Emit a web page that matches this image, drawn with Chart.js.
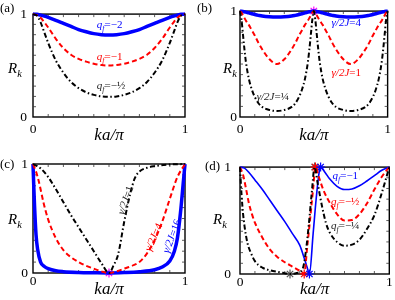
<!DOCTYPE html>
<html>
<head>
<meta charset="utf-8">
<script src="https://cdn.jsdelivr.net/npm/chart.js@4.4.0/dist/chart.umd.min.js"></script>
<style>
  html, body { margin: 0; padding: 0; background: #fff; }
  #wrap { position: relative; width: 395px; height: 300px; }
  .panel { position: absolute; }
</style>
</head>
<body>
<div id="wrap">
  <div class="panel" style="left:0;top:0"><canvas id="pa" width="197" height="150"></canvas></div>
  <div class="panel" style="left:197px;top:0"><canvas id="pb" width="198" height="150"></canvas></div>
  <div class="panel" style="left:0;top:150px"><canvas id="pc" width="197" height="150"></canvas></div>
  <div class="panel" style="left:197px;top:150px"><canvas id="pd" width="198" height="150"></canvas></div>
</div>
<script>
// (a) R_k vs ka/pi for q_f = -2, -1, -1/2
const aK     = [0, 0.025, 0.05, 0.075, 0.1, 0.15, 0.2, 0.25, 0.3, 0.35, 0.4, 0.45, 0.5, 0.55, 0.6, 0.65, 0.7, 0.75, 0.8, 0.85, 0.9, 0.925, 0.95, 0.975, 1];
const aBlue  = [1, 0.998, 0.99, 0.98, 0.968, 0.94, 0.91, 0.88, 0.85, 0.828, 0.81, 0.8, 0.797, 0.8, 0.81, 0.828, 0.85, 0.88, 0.91, 0.94, 0.968, 0.98, 0.99, 0.998, 1];
const aRed   = [1, 0.99, 0.965, 0.92, 0.87, 0.76, 0.67, 0.605, 0.565, 0.538, 0.518, 0.505, 0.5, 0.505, 0.518, 0.538, 0.565, 0.605, 0.67, 0.76, 0.87, 0.92, 0.965, 0.99, 1];
const aBlack = [1, 0.985, 0.92, 0.82, 0.72, 0.55, 0.43, 0.34, 0.28, 0.24, 0.215, 0.2, 0.196, 0.2, 0.215, 0.24, 0.28, 0.34, 0.43, 0.55, 0.72, 0.82, 0.92, 0.985, 1];

// (b) gamma/2J = 4, 1, 1/4
const bK     = [0, 0.01, 0.02, 0.03, 0.04, 0.06, 0.08, 0.1, 0.125, 0.15, 0.2, 0.25, 0.3, 0.35, 0.375, 0.4, 0.42, 0.44, 0.46, 0.47, 0.48, 0.49, 0.5,
                0.51, 0.52, 0.53, 0.54, 0.56, 0.58, 0.6, 0.625, 0.65, 0.7, 0.75, 0.8, 0.85, 0.875, 0.9, 0.92, 0.94, 0.96, 0.97, 0.98, 0.99, 1];
const bBlue  = [1, 0.999, 0.997, 0.994, 0.99, 0.983, 0.975, 0.968, 0.96, 0.953, 0.946, 0.944, 0.946, 0.953, 0.96, 0.968, 0.975, 0.983, 0.99, 0.994, 0.997, 0.999, 1,
                0.999, 0.997, 0.994, 0.99, 0.983, 0.975, 0.968, 0.96, 0.953, 0.946, 0.944, 0.946, 0.953, 0.96, 0.968, 0.975, 0.983, 0.99, 0.994, 0.997, 0.999, 1];
const bRed   = [1, 0.985, 0.96, 0.935, 0.91, 0.87, 0.82, 0.77, 0.7, 0.64, 0.545, 0.5, 0.545, 0.64, 0.7, 0.77, 0.82, 0.87, 0.91, 0.935, 0.96, 0.985, 1,
                0.985, 0.96, 0.935, 0.91, 0.87, 0.82, 0.77, 0.7, 0.64, 0.545, 0.5, 0.545, 0.64, 0.7, 0.77, 0.82, 0.87, 0.91, 0.935, 0.96, 0.985, 1];
const bBlack = [1, 0.92, 0.78, 0.64, 0.52, 0.36, 0.26, 0.19, 0.13, 0.095, 0.066, 0.057, 0.066, 0.095, 0.13, 0.19, 0.26, 0.36, 0.52, 0.64, 0.78, 0.92, 1,
                0.92, 0.78, 0.64, 0.52, 0.36, 0.26, 0.19, 0.13, 0.095, 0.066, 0.057, 0.066, 0.095, 0.13, 0.19, 0.26, 0.36, 0.52, 0.64, 0.78, 0.92, 1];
const bStarK = [0.5];
const bStarR = [1];

// (c) gamma/2J = 16, 4, 1
const cBlueK  = [0, 0.005, 0.01, 0.02, 0.03, 0.05, 0.075, 0.1, 0.15, 0.2, 0.3, 0.4, 0.5, 0.6, 0.7, 0.8, 0.85, 0.9, 0.93, 0.95, 0.97, 0.99, 1];
const cBlue   = [1, 0.8, 0.62, 0.35, 0.22, 0.1, 0.06, 0.04, 0.02, 0.012, 0.005, 0.002, 0, 0.004, 0.012, 0.03, 0.055, 0.11, 0.2, 0.32, 0.55, 0.85, 1];
const cRedK   = [0, 0.02, 0.04, 0.07, 0.1, 0.15, 0.2, 0.25, 0.3, 0.35, 0.4, 0.45, 0.5, 0.55, 0.6, 0.65, 0.7, 0.75, 0.8, 0.85, 0.9, 0.95, 1];
const cRed    = [1, 0.93, 0.83, 0.64, 0.49, 0.32, 0.21, 0.145, 0.1, 0.065, 0.04, 0.015, 0, 0.015, 0.04, 0.065, 0.1, 0.18, 0.3, 0.47, 0.68, 0.88, 1];
const cBlackK = [0, 0.05, 0.1, 0.15, 0.2, 0.25, 0.3, 0.35, 0.4, 0.45, 0.5, 0.53, 0.56, 0.6, 0.64, 0.67, 0.7, 0.75, 0.8, 0.9, 1];
const cBlack  = [1, 0.96, 0.88, 0.77, 0.65, 0.53, 0.42, 0.31, 0.2, 0.09, 0, 0.07, 0.17, 0.47, 0.73, 0.87, 0.93, 0.965, 0.98, 0.995, 1];
const cStarK = [0.5];
const cStarR = [0];

// (d) q_f = -1, -1/2, -1/4
const dBlueK  = [0, 0.03, 0.06, 0.1, 0.15, 0.2, 0.25, 0.3, 0.35, 0.4, 0.43, 0.45, 0.465, 0.49, 0.51, 0.53, 0.54, 0.57, 0.6, 0.65, 0.7, 0.75, 0.8, 0.85, 0.9, 0.95, 1];
const dBlue   = [1, 0.99, 0.95, 0.88, 0.79, 0.69, 0.59, 0.49, 0.38, 0.27, 0.15, 0.06, 0, 0.38, 0.7, 0.95, 1, 0.95, 0.89, 0.82, 0.79, 0.795, 0.825, 0.87, 0.92, 0.97, 1];
const dRedK   = [0, 0.02, 0.04, 0.06, 0.08, 0.1, 0.15, 0.2, 0.25, 0.3, 0.35, 0.4, 0.43, 0.45, 0.47, 0.49, 0.505, 0.53, 0.56, 0.6, 0.65, 0.7, 0.75, 0.8, 0.85, 0.9, 0.95, 1];
const dRed    = [1, 0.93, 0.8, 0.66, 0.56, 0.48, 0.34, 0.23, 0.16, 0.11, 0.07, 0.03, 0, 0.25, 0.52, 0.8, 1, 0.9, 0.78, 0.67, 0.56, 0.5, 0.505, 0.56, 0.66, 0.79, 0.91, 1];
const dBlackK = [0, 0.01, 0.02, 0.03, 0.05, 0.075, 0.1, 0.15, 0.2, 0.25, 0.3, 0.335, 0.38, 0.42, 0.44, 0.46, 0.48, 0.5, 0.52, 0.55, 0.575, 0.6, 0.65, 0.7, 0.75, 0.8, 0.85, 0.9, 0.95, 1];
const dBlack  = [1, 0.75, 0.57, 0.45, 0.29, 0.19, 0.12, 0.06, 0.035, 0.02, 0.008, 0, 0.01, 0.05, 0.2, 0.45, 0.75, 1, 0.85, 0.63, 0.48, 0.39, 0.3, 0.265, 0.275, 0.32, 0.42, 0.55, 0.76, 1];
const dStarLowK  = [0.335, 0.43, 0.465];
const dStarLowR  = [0, 0, 0];
const dStarHighK = [0.5, 0.505, 0.54];
const dStarHighR = [1, 1, 1];

const minorTicks = [0.1, 0.2, 0.3, 0.4, 0.5, 0.6, 0.7, 0.8, 0.9];

const SERIF = '"Liberation Serif", "DejaVu Serif", serif';
const BLUE = '#0000ff', RED = '#ff0000', BLACK = '#000000', MAGENTA = '#ff00ff';

function pts(ks, rs) {
    return ks.map((k, i) => ({ x: k, y: rs[i] }));
}

function curve(ks, rs, color, kind, width) {
    const ds = {
        type: 'line',
        data: pts(ks, rs),
        borderColor: color,
        borderWidth: width,
        pointRadius: 0,
        cubicInterpolationMode: 'monotone',
        clip: false
    };
    if (kind === 'dash') ds.borderDash = [5, 3];
    if (kind === 'dashdot') ds.borderDash = [5, 2.5, 1.5, 2.5];
    return ds;
}

function stars(ks, rs, colors) {
    return {
        type: 'scatter',
        data: pts(ks, rs),
        pointStyle: 'star',
        pointRadius: 4.5,
        borderWidth: 1.2,
        borderColor: colors,
        backgroundColor: colors,
        clip: false
    };
}

// kleine Hilfe: Text mit kursiv / tiefgestellt
function qf(v) { return [{ t: 'q', it: 1 }, { t: 'f', it: 1, sub: 1 }, { t: '=\u2212' + v }]; }
function gam(v) { return [{ t: '\u03b3/2J', it: 1 }, { t: '=' + v }]; }

function richWidth(ctx, parts, size) {
    let w = 0;
    parts.forEach(p => {
        ctx.font = (p.it ? 'italic ' : '') + (p.sub ? size * 0.7 : size) + 'px ' + SERIF;
        w += ctx.measureText(p.t).width;
    });
    return w;
}

function richText(ctx, parts, x, y, size, color) {
    let cx = x;
    ctx.fillStyle = color;
    ctx.textBaseline = 'alphabetic';
    ctx.textAlign = 'left';
    parts.forEach(p => {
        const fs = p.sub ? size * 0.7 : size;
        ctx.font = (p.it ? 'italic ' : '') + fs + 'px ' + SERIF;
        ctx.fillText(p.t, cx, y + (p.sub ? size * 0.25 : 0));
        cx += ctx.measureText(p.t).width;
    });
}

const decor = {
    id: 'decor',
    beforeDatasetsDraw(chart) {
        const { ctx, chartArea: a, scales: { x, y } } = chart;
        ctx.save();
        ctx.strokeStyle = '#000';
        ctx.lineWidth = 1.4;
        ctx.strokeRect(a.left, a.top, a.right - a.left, a.bottom - a.top);
        ctx.lineWidth = 0.8;
        ctx.strokeStyle = '#333';
        ctx.beginPath();
        minorTicks.forEach(t => {
            const px = x.getPixelForValue(t);
            ctx.moveTo(px, a.bottom); ctx.lineTo(px, a.bottom - 3);
            ctx.moveTo(px, a.top); ctx.lineTo(px, a.top + 3);
            const py = y.getPixelForValue(t);
            ctx.moveTo(a.left, py); ctx.lineTo(a.left + 3, py);
            ctx.moveTo(a.right, py); ctx.lineTo(a.right - 3, py);
        });
        ctx.stroke();
        ctx.restore();
    },
    afterDraw(chart, args, o) {
        const { ctx, chartArea: a, scales: { x, y } } = chart;
        ctx.save();
        // panel letter
        ctx.font = '13px ' + SERIF;
        ctx.fillStyle = '#000';
        ctx.textAlign = 'left';
        ctx.textBaseline = 'alphabetic';
        ctx.fillText(o.tag, o.tagX, o.tagY);
        // R_k
        richText(ctx, [{ t: 'R', it: 1 }, { t: 'k', it: 1, sub: 1 }], a.left + o.rkDx, o.rkY, 15, '#000');
        // curve labels
        o.notes.forEach(n => {
            const px = x.getPixelForValue(n.k), py = y.getPixelForValue(n.r);
            if (n.rot) {
                const w = richWidth(ctx, n.parts, 11);
                ctx.save();
                ctx.translate(px, py);
                ctx.rotate(n.rot * Math.PI / 180);
                richText(ctx, n.parts, -w / 2, 4, 11, n.color);
                ctx.restore();
            } else {
                richText(ctx, n.parts, px, py, 11, n.color);
            }
        });
        ctx.restore();
    }
};

function makePanel(id, datasets, p) {
    new Chart(document.getElementById(id), {
        data: { datasets: datasets },
        options: {
            responsive: false,
            animation: false,
            events: [],
            layout: { padding: { left: 0, right: p.padR, top: p.padT, bottom: 0 } },
            plugins: { legend: { display: false }, tooltip: { enabled: false }, decor: p.decor },
            scales: {
                x: {
                    type: 'linear', min: 0, max: 1,
                    grid: { display: false, drawTicks: false }, border: { display: false },
                    ticks: { stepSize: 1, padding: p.xPad, color: '#000', maxRotation: 0, font: { family: SERIF, size: 13.5 } },
                    title: { display: true, text: 'ka/\u03c0', color: '#000', padding: { top: 0, bottom: p.titlePad }, font: { family: SERIF, size: 17, style: 'italic' } },
                    afterFit: s => { s.height = p.xh; }
                },
                y: {
                    type: 'linear', min: 0, max: 1,
                    grid: { display: false, drawTicks: false }, border: { display: false },
                    ticks: { stepSize: 1, padding: p.yPad, color: '#000', font: { family: SERIF, size: 13.5 } },
                    afterFit: s => { s.width = p.yw; }
                }
            }
        },
        plugins: [decor]
    });
}

makePanel('pa', [
    curve(aK, aBlack, BLACK, 'dashdot', 2),
    curve(aK, aRed, RED, 'dash', 2),
    curve(aK, aBlue, BLUE, 'solid', 3.5)
], {
    padR: 12, padT: 7, xh: 33, yw: 33, xPad: 4, yPad: 6, titlePad: 4,
    decor: {
        tag: '(a)', tagX: 0, tagY: 12, rkDx: -25, rkY: 73,
        notes: [
            { parts: qf('2'), k: 0.42, r: 0.864, color: BLUE },
            { parts: qf('1'), k: 0.42, r: 0.555, color: RED },
            { parts: qf('\u00bd'), k: 0.42, r: 0.27, color: '#222' }
        ]
    }
});

makePanel('pb', [
    curve(bK, bBlack, BLACK, 'dashdot', 2),
    curve(bK, bRed, RED, 'dash', 2),
    curve(bK, bBlue, BLUE, 'solid', 3.5),
    stars(bStarK, bStarR, MAGENTA)
], {
    padR: 5, padT: 7, xh: 33, yw: 43, xPad: 4, yPad: 3, titlePad: 4,
    decor: {
        tag: '(b)', tagX: 0, tagY: 12, rkDx: -17, rkY: 73,
        notes: [
            { parts: gam('4'), k: 0.62, r: 0.864, color: BLUE },
            { parts: gam('1'), k: 0.62, r: 0.39, color: RED },
            { parts: gam('\u00bc'), k: 0.113, r: 0.164, color: '#222' }
        ]
    }
});

makePanel('pc', [
    curve(cBlackK, cBlack, BLACK, 'dashdot', 2),
    curve(cRedK, cRed, RED, 'dash', 2),
    curve(cBlueK, cBlue, BLUE, 'solid', 3.5),
    stars(cStarK, cStarR, MAGENTA)
], {
    padR: 12, padT: 14, xh: 27, yw: 33, xPad: 0, yPad: 5, titlePad: 0,
    decor: {
        tag: '(c)', tagX: 0, tagY: 18, rkDx: -25, rkY: 74,
        notes: [
            { parts: gam('1'), k: 0.605, r: 0.67, rot: -71, color: '#222' },
            { parts: gam('4'), k: 0.79, r: 0.33, rot: -66, color: RED },
            { parts: gam('16'), k: 0.91, r: 0.34, rot: -69, color: BLUE }
        ]
    }
});

makePanel('pd', [
    curve(dBlackK, dBlack, BLACK, 'dashdot', 2),
    curve(dRedK, dRed, RED, 'dash', 2),
    curve(dBlueK, dBlue, BLUE, 'solid', 1.6),
    stars(dStarLowK, dStarLowR, ['#555', RED, BLUE]),
    stars(dStarHighK, dStarHighR, ['#555', RED, BLUE])
], {
    padR: 5, padT: 14, xh: 26, yw: 43, xPad: 0, yPad: 9, titlePad: 0,
    decor: {
        tag: '(d)', tagX: 8, tagY: 20, rkDx: -27, rkY: 74,
        notes: [
            { parts: qf('1'), k: 0.62, r: 0.89, color: BLUE },
            { parts: qf('\u00bd'), k: 0.61, r: 0.645, color: RED },
            { parts: qf('\u00bc'), k: 0.61, r: 0.42, color: '#222' }
        ]
    }
});
</script>
</body>
</html>
